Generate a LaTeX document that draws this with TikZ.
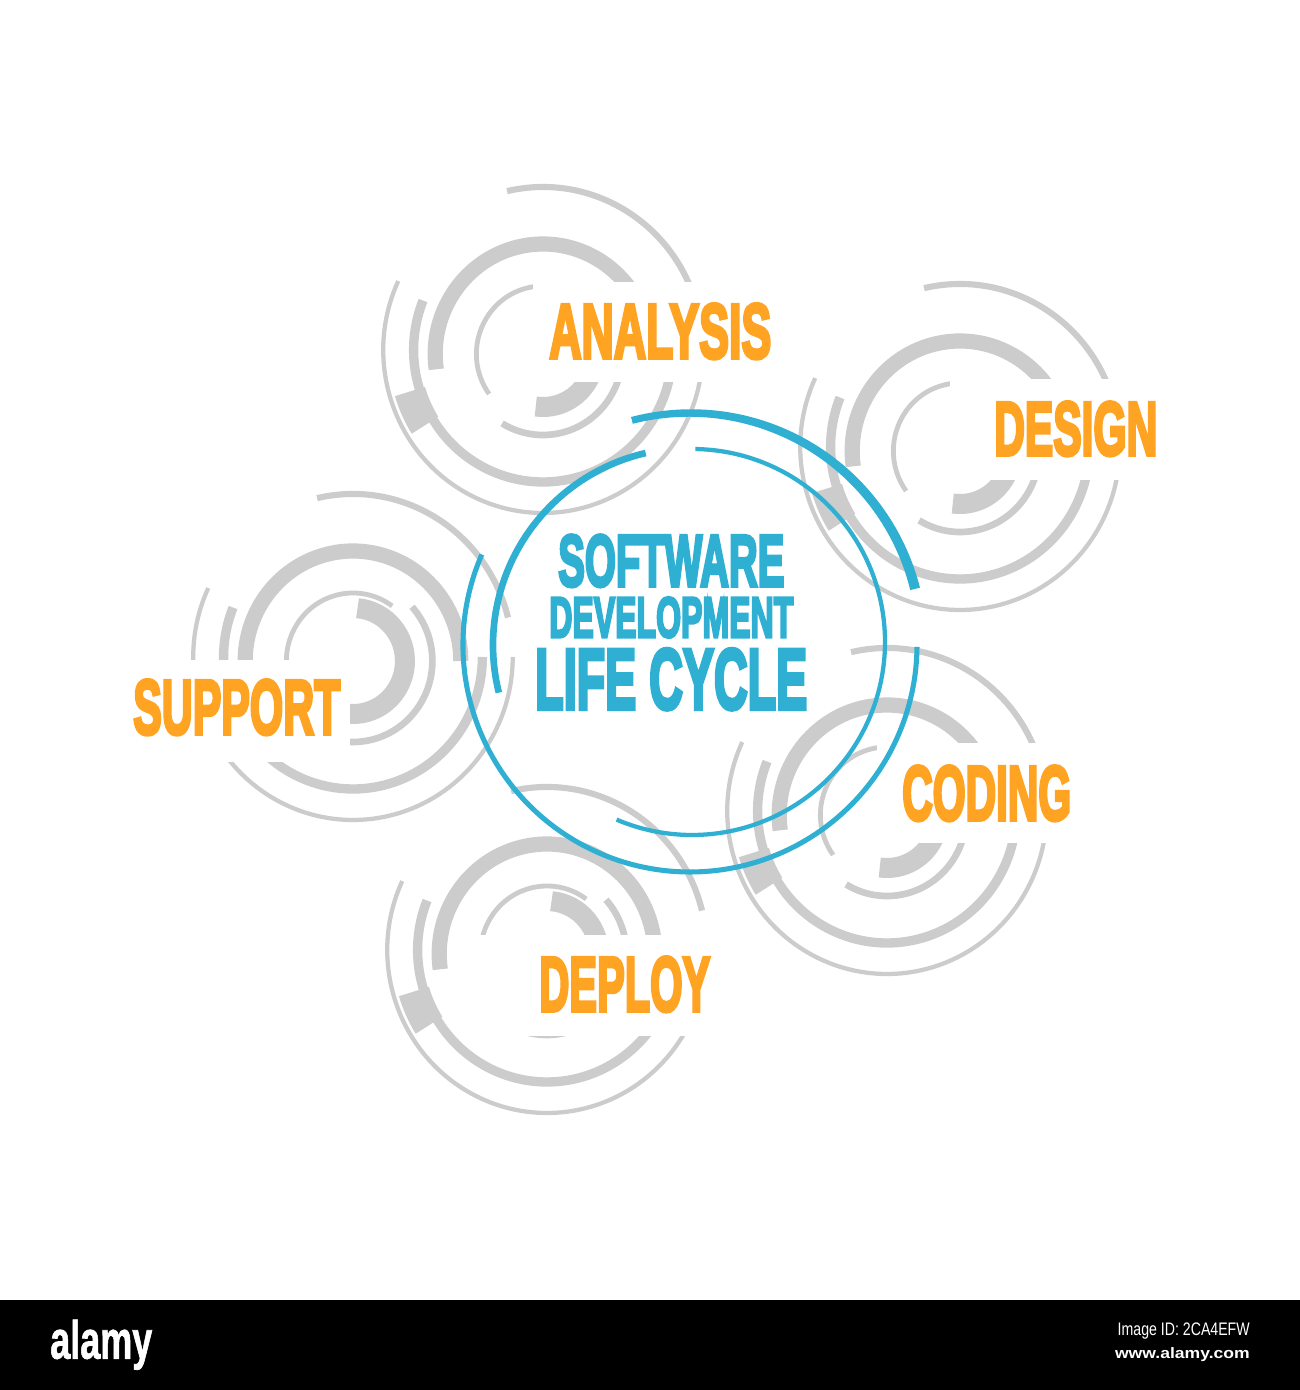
\documentclass[tikz,border=0pt]{standalone}
\usepackage{fontspec}
\usepackage{graphicx}
\setmainfont{Liberation Sans}
\newfontfamily\antonlike[UprightFont=* Bold,FakeBold=5]{Liberation Sans}
\newfontfamily\logofont[UprightFont=* Bold,FakeBold=1.5]{Liberation Sans}
\definecolor{ringgray}{HTML}{CCCCCC}
\definecolor{labelorange}{HTML}{FFA322}
\definecolor{cycleblue}{HTML}{2FB0D3}
% arc: radius, start angle, end angle (radius in image pixels)
\newcommand\ringarc[3]{({#2}:{#1}) arc[start angle={#2},end angle={#3},radius={(#1)*0.75pt}]}
% motif: centre x, centre y, white band x1,y1,x2,y2 (image pixels)
\newcommand\gearmotif[6]{%
  \begin{scope}[shift={(#1,1390-#2)},xscale=0.98]
    \draw[ringgray,line width=4.6pt] \ringarc{163}{103}{14};
    \draw[ringgray,line width=3.2pt] \ringarc{163}{155}{360};
    \draw[ringgray,line width=7pt] \ringarc{132}{158}{360};
    \fill[ringgray] (197:126) arc[start angle=197,end angle=212,radius=94.5pt]
       -- (212:158) arc[start angle=212,end angle=197,radius=118.5pt] -- cycle;
    \begin{scope}[shift={(0,-4)}]
      \draw[ringgray,line width=11.4pt] \ringarc{110}{188}{0};
      \draw[ringgray,line width=15pt] \ringarc{53}{85}{-98};
      \draw[ringgray,line width=3.6pt] \ringarc{68}{54}{216};
      \draw[ringgray,line width=5pt] \ringarc{81}{239}{402};
    \end{scope}
  \end{scope}
  \fill[white] (#3,1390-#4) rectangle (#5,1390-#6);
}
% text fitted into a box: name, x1,y1,x2,y2, colour, text
\newcommand\fitlabel[7]{%
  \pgfmathsetlengthmacro\labw{(#4-#2)*0.75}%
  \pgfmathsetlengthmacro\labh{(#5-#3)*0.75}%
  \node[anchor=south west,inner sep=0pt,text=#6] (#1) at (#2,1390-#5)
     {\resizebox{\labw}{\labh}{\antonlike #7}};
}
\begin{document}
\begin{tikzpicture}[x=0.75pt,y=0.75pt]
\useasboundingbox (0,0) rectangle (1300,1390);
\fill[white] (0,0) rectangle (1300,1390);
\fill[black] (0,0) rectangle (1300,90);

\gearmotif{543}{350}{533}{282}{785}{382}
\gearmotif{960}{447}{950}{379}{1175}{480}
\gearmotif{353}{657}{110}{660}{350}{762}
\gearmotif{547}{950}{455}{935}{725}{1036}
\gearmotif{887}{811}{877}{743}{1085}{843}

% centre rings
\begin{scope}[shift={(690,1390-645)}]
  \fill[cycleblue] plot[domain=104.5:14,samples=70] ({\x}:{232+3.5+1.5*(104.5-\x)/90.5})
     -- plot[domain=14:104.5,samples=70] ({\x}:{232-3.5-1.5*(104.5-\x)/90.5}) -- cycle;
  \draw[cycleblue,line width=3.8pt] \ringarc{227}{156.5}{359.5};
  \draw[cycleblue,line width=5pt] \ringarc{197}{103}{194};
\end{scope}
\begin{scope}[shift={(692,1390-642)}]
  \draw[cycleblue,line width=3.2pt] \ringarc{193}{89}{-113};
\end{scope}

\fitlabel{analysis}{549}{305}{771}{359}{labelorange}{ANALYSIS}
\fitlabel{design}{994}{403}{1157}{456}{labelorange}{DESIGN}
\fitlabel{coding}{902}{767}{1071}{821}{labelorange}{CODING}
\fitlabel{deploy}{539}{958}{710}{1012}{labelorange}{DEPLOY}
\fitlabel{support}{133}{681}{340}{735}{labelorange}{SUPPORT}
\fitlabel{software}{558}{536}{784}{587}{cycleblue}{SOFTWARE}
\fitlabel{development}{549}{598}{793}{638}{cycleblue}{DEVELOPMENT}
\fitlabel{lifecycle}{535}{650}{807}{710}{cycleblue}{LIFE CYCLE}

% footer
\node[anchor=south west,inner sep=0pt,text=white] (logo) at (50,1390-1370)
  {\resizebox*{76.5pt}{37.5pt}{\logofont alamy}};
\node[anchor=south east,inner sep=0pt,text=white] (imgid) at (1250,1390-1340)
  {\resizebox{99pt}{9.5pt}{Image ID: 2CA4EFW}};
\node[anchor=south east,inner sep=0pt,text=white] (www) at (1250,1390-1362)
  {\resizebox{101pt}{8.2pt}{\bfseries www.alamy.com}};
\end{tikzpicture}
\end{document}
